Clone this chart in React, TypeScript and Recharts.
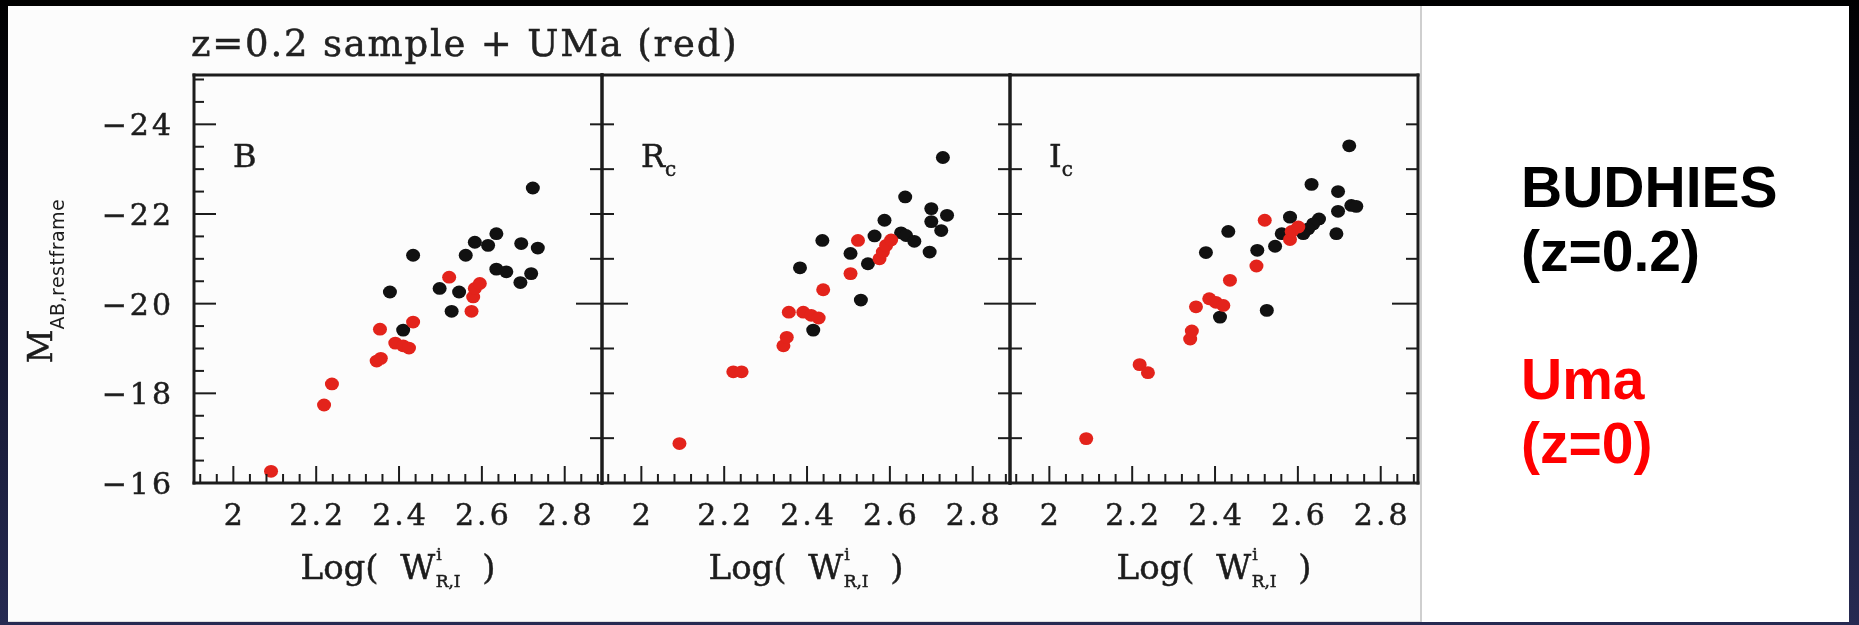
import { ScatterChart, Scatter, XAxis, YAxis } from "recharts"

// log rotation width (w) vs rest-frame absolute magnitude (m), per band
const bBudhies = [
  { w: 2.723, m: -22.58 }, { w: 2.635, m: -21.56 }, { w: 2.615, m: -21.3 }, { w: 2.583, m: -21.37 },
  { w: 2.561, m: -21.08 }, { w: 2.695, m: -21.34 }, { w: 2.735, m: -21.24 }, { w: 2.434, m: -21.08 },
  { w: 2.378, m: -20.26 }, { w: 2.635, m: -20.77 }, { w: 2.659, m: -20.71 }, { w: 2.719, m: -20.67 },
  { w: 2.693, m: -20.47 }, { w: 2.498, m: -20.34 }, { w: 2.545, m: -20.26 }, { w: 2.527, m: -19.83 },
  { w: 2.41, m: -19.41 },
]
const bUma = [
  { w: 2.091, m: -16.26 }, { w: 2.219, m: -17.74 }, { w: 2.238, m: -18.21 }, { w: 2.346, m: -18.72 },
  { w: 2.356, m: -18.78 }, { w: 2.354, m: -19.43 }, { w: 2.391, m: -19.12 }, { w: 2.41, m: -19.06 },
  { w: 2.424, m: -19.01 }, { w: 2.434, m: -19.59 }, { w: 2.521, m: -20.59 }, { w: 2.575, m: -19.83 },
  { w: 2.579, m: -20.15 }, { w: 2.583, m: -20.34 }, { w: 2.595, m: -20.45 },
]

const rBudhies = [
  { w: 2.728, m: -23.26 }, { w: 2.637, m: -22.38 }, { w: 2.7, m: -22.12 }, { w: 2.738, m: -21.97 },
  { w: 2.7, m: -21.83 }, { w: 2.724, m: -21.63 }, { w: 2.587, m: -21.86 }, { w: 2.563, m: -21.51 },
  { w: 2.627, m: -21.58 }, { w: 2.639, m: -21.52 }, { w: 2.659, m: -21.39 }, { w: 2.696, m: -21.15 },
  { w: 2.437, m: -21.41 }, { w: 2.505, m: -21.12 }, { w: 2.547, m: -20.89 }, { w: 2.383, m: -20.8 },
  { w: 2.53, m: -20.08 }, { w: 2.415, m: -19.41 },
]
const rUma = [
  { w: 2.092, m: -16.88 }, { w: 2.222, m: -18.48 }, { w: 2.242, m: -18.48 }, { w: 2.343, m: -19.06 },
  { w: 2.351, m: -19.25 }, { w: 2.356, m: -19.81 }, { w: 2.391, m: -19.81 }, { w: 2.41, m: -19.74 },
  { w: 2.428, m: -19.68 }, { w: 2.439, m: -20.31 }, { w: 2.505, m: -20.67 }, { w: 2.523, m: -21.41 },
  { w: 2.575, m: -21.0 }, { w: 2.583, m: -21.15 }, { w: 2.591, m: -21.3 }, { w: 2.603, m: -21.42 },
]

const iBudhies = [
  { w: 2.724, m: -23.52 }, { w: 2.633, m: -22.66 }, { w: 2.697, m: -22.5 }, { w: 2.729, m: -22.19 },
  { w: 2.741, m: -22.17 }, { w: 2.697, m: -22.06 }, { w: 2.693, m: -21.56 }, { w: 2.581, m: -21.93 },
  { w: 2.651, m: -21.89 }, { w: 2.637, m: -21.78 }, { w: 2.625, m: -21.67 }, { w: 2.613, m: -21.56 },
  { w: 2.561, m: -21.56 }, { w: 2.545, m: -21.28 }, { w: 2.432, m: -21.61 }, { w: 2.502, m: -21.19 },
  { w: 2.378, m: -21.14 }, { w: 2.525, m: -19.85 }, { w: 2.412, m: -19.7 },
]
const iUma = [
  { w: 2.089, m: -16.99 }, { w: 2.218, m: -18.64 }, { w: 2.238, m: -18.46 }, { w: 2.34, m: -19.21 },
  { w: 2.344, m: -19.39 }, { w: 2.354, m: -19.93 }, { w: 2.386, m: -20.11 }, { w: 2.402, m: -20.03 },
  { w: 2.42, m: -19.96 }, { w: 2.436, m: -20.52 }, { w: 2.5, m: -20.84 }, { w: 2.52, m: -21.86 },
  { w: 2.581, m: -21.43 }, { w: 2.585, m: -21.61 }, { w: 2.601, m: -21.71 },
]

const xMajor = [2, 2.2, 2.4, 2.6, 2.8]
const xMinor = [
  1.92, 1.96, 2.04, 2.08, 2.12, 2.16, 2.24, 2.28, 2.32, 2.36,
  2.44, 2.48, 2.52, 2.56, 2.64, 2.68, 2.72, 2.76, 2.84, 2.88,
]
const magMajor = [-24, -22, -20, -18, -16]
const magMinor = [-25, -24.5, -23.5, -23, -22.5, -21.5, -21, -20.5, -19.5, -19, -18.5, -17.5, -17, -16.5]
const magInner = [-24, -23, -22, -21, -20, -19, -18, -17]
const magInnerMajor = [-20]

const X_DOMAIN: [number, number] = [1.905, 2.89]
const M_DOMAIN: [number, number] = [-25.1, -16]

const PLOT_TOP = 75
const PLOT_W = 408
const PLOT_H = 408
const PAGE_H = 625
const ML = 190
const MR = 20

const INK = "#1c1c1c"
const BUDHIES_COLOR = "#111111"
const UMA_COLOR = "#e3231b"
const SERIF = "'DejaVu Serif', serif"

const xTicks = [...xMajor, ...xMinor].sort((a, b) => a - b)
const magTicks = [...magMajor, ...magMinor].sort((a, b) => a - b)

const frameLine = { stroke: INK, strokeWidth: 3, strokeLinecap: "square" as const }
const heavy = { stroke: INK, strokeWidth: 0.5 }

function dot(color: string) {
  return (p: any) => <ellipse cx={p.cx} cy={p.cy} rx={7} ry={6.4} fill={color} />
}

// axes are 1px thick (CartesianAxis skips zero-size axes), ticks are drawn inward by hand
function xTick(side: "bottom" | "top", withLabels: boolean) {
  return (p: any) => {
    const v = p.payload.value
    const major = xMajor.includes(v)
    const len = major ? 17 : 9
    const dir = side === "bottom" ? -1 : 1
    return (
      <g>
        <line x1={p.x} y1={p.y} x2={p.x} y2={p.y + dir * len} stroke={INK} strokeWidth={2} />
        {withLabels && major && (
          <text x={p.x + 1.5} y={p.y + 42} textAnchor="middle" fontFamily={SERIF} fontSize={30}
            letterSpacing={3} fill={INK} {...heavy}>
            {v}
          </text>
        )}
      </g>
    )
  }
}

function magTick(side: "left" | "right", majors: number[], withLabels: boolean) {
  return (p: any) => {
    const v = p.payload.value
    const major = majors.includes(v)
    const len = withLabels ? (major ? 22 : 10) : (major ? 26 : 12)
    const dir = side === "left" ? 1 : -1
    return (
      <g>
        <line x1={p.x} y1={p.y} x2={p.x + dir * len} y2={p.y} stroke={INK} strokeWidth={2} />
        {withLabels && major && (
          <text x={p.x - 20} y={p.y + 11} textAnchor="end" fontFamily={SERIF} fontSize={30}
            letterSpacing={3} fill={INK} {...heavy}>
            {`\u2212${Math.abs(v)}`}
          </text>
        )}
      </g>
    )
  }
}

function xTitle(props: any) {
  const vb = props.viewBox ?? props
  return (
    <text x={vb.x + vb.width / 2} y={vb.y + 96} textAnchor="middle" fontFamily={SERIF}
      fontSize={34} fill={INK} {...heavy} style={{ whiteSpace: "pre" }}>
      {"Log(  W"}
      <tspan fontSize={17} dx={1} dy={-19}>i</tspan>
      <tspan fontSize={17} dx={-6} dy={27}>R,I</tspan>
      <tspan fontSize={34} dy={-8}>{"  )"}</tspan>
    </text>
  )
}

function yTitle(props: any) {
  const vb = props.viewBox ?? props
  const cx = vb.x + vb.width - 142
  const cy = vb.y + 206
  return (
    <text x={cx} y={cy} transform={`rotate(-90, ${cx}, ${cy})`} textAnchor="middle" fill={INK}>
      <tspan fontFamily={SERIF} fontSize={33} {...heavy}>M</tspan>
      <tspan fontFamily="'DejaVu Sans', sans-serif" fontSize={19} dy={12} letterSpacing={0.5}>
        AB,restframe
      </tspan>
    </text>
  )
}

function bandLabel(band: string, sub: string) {
  return (props: any) => {
    const vb = props.viewBox ?? props
    return (
      <text x={vb.x + 39} y={vb.y + vb.height + 92} fontFamily={SERIF} fontSize={32} fill={INK} {...heavy}>
        {band}
        {sub && <tspan fontSize={20} dy={9}>{sub}</tspan>}
      </text>
    )
  }
}

interface PanelProps {
  left: number
  band: string
  sub: string
  budhies: { w: number; m: number }[]
  uma: { w: number; m: number }[]
  first: boolean
}

function Panel({ left, band, sub, budhies, uma, first }: PanelProps) {
  return (
    <div style={{ position: "absolute", left: left - ML, top: 0 }}>
      <ScatterChart
        width={ML + PLOT_W + MR}
        height={PAGE_H}
        margin={{ top: PLOT_TOP - 1, right: MR - 1, bottom: PAGE_H - PLOT_TOP - PLOT_H - 1, left: ML - 1 }}
      >
        <XAxis xAxisId="b" orientation="bottom" type="number" dataKey="w" domain={X_DOMAIN}
          allowDataOverflow ticks={xTicks} interval={0} height={1} tickSize={0} tickMargin={0}
          tickLine={false} axisLine={frameLine} tick={xTick("bottom", true)} label={xTitle} />
        <XAxis xAxisId="t" orientation="top" type="number" domain={X_DOMAIN} allowDataOverflow
          ticks={xTicks} interval={0} height={1} tickSize={0} tickMargin={0} tickLine={false}
          axisLine={frameLine} tick={xTick("top", false)} label={bandLabel(band, sub)} />
        <YAxis yAxisId="l" orientation="left" type="number" dataKey="m" domain={M_DOMAIN} reversed
          allowDataOverflow ticks={first ? magTicks : magInner} interval={0} width={1} tickSize={0}
          tickMargin={0} tickLine={false} axisLine={frameLine}
          tick={first ? magTick("left", magMajor, true) : magTick("left", magInnerMajor, false)}
          label={first ? yTitle : undefined} />
        <YAxis yAxisId="r" orientation="right" type="number" domain={M_DOMAIN} reversed
          allowDataOverflow ticks={magInner} interval={0} width={1} tickSize={0} tickMargin={0}
          tickLine={false} axisLine={frameLine} tick={magTick("right", magInnerMajor, false)} />
        <Scatter xAxisId="b" yAxisId="l" data={budhies} fill={BUDHIES_COLOR}
          shape={dot(BUDHIES_COLOR)} isAnimationActive={false} />
        <Scatter xAxisId="b" yAxisId="l" data={uma} fill={UMA_COLOR}
          shape={dot(UMA_COLOR)} isAnimationActive={false} />
      </ScatterChart>
    </div>
  )
}

const panels = [
  { left: 194, band: "B", sub: "", budhies: bBudhies, uma: bUma, first: true },
  { left: 602, band: "R", sub: "c", budhies: rBudhies, uma: rUma, first: false },
  { left: 1010, band: "I", sub: "c", budhies: iBudhies, uma: iUma, first: false },
]

export default function App() {
  return (
    <div style={{
      position: "absolute", left: 0, top: 0, width: 1859, height: 625, overflow: "hidden",
      background: "linear-gradient(180deg, #000000 0%, #12142a 45%, #262a52 100%)",
    }}>
      <div style={{ position: "absolute", left: 8, top: 6, width: 1841, height: 616, background: "#ffffff" }} />
      <div style={{ position: "absolute", left: 8, top: 6, width: 1412, height: 615, background: "#fcfcfc",
        borderBottom: "1px solid #dedede" }} />
      <div style={{ position: "absolute", left: 1420, top: 6, width: 2, height: 616, background: "#cfcfcf" }} />

      <div style={{ position: "absolute", left: 0, top: 0, width: 1420, height: 625, filter: "blur(0.6px)" }}>
        <svg width={800} height={80} style={{ position: "absolute", left: 0, top: 0 }}>
          <text x={191} y={56} fontFamily={SERIF} fontSize={37} letterSpacing={1.8} fill="#222222" {...heavy}>
            z=0.2 sample + UMa (red)
          </text>
        </svg>
        {panels.map(p => (
          <Panel key={p.band} {...p} />
        ))}
      </div>

      <div style={{
        position: "absolute", left: 1521, top: 155, fontFamily: "'Liberation Sans', Arial, sans-serif",
        fontWeight: 700, fontSize: 57, lineHeight: "64px", whiteSpace: "pre",
      }}>
        <div style={{ color: "#000000" }}>BUDHIES</div>
        <div style={{ color: "#000000" }}>(z=0.2)</div>
        <div>{" "}</div>
        <div style={{ color: "#ff0000" }}>Uma</div>
        <div style={{ color: "#ff0000" }}>(z=0)</div>
      </div>
    </div>
  )
}
